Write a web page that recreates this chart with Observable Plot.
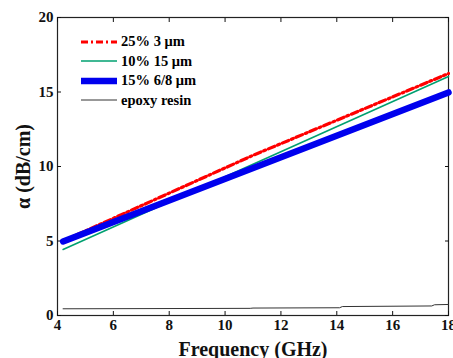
<!DOCTYPE html>
<html><head><meta charset="utf-8">
<script src="https://cdn.jsdelivr.net/npm/d3@7"></script>
<script src="https://cdn.jsdelivr.net/npm/@observablehq/plot@0.6"></script>
<style>
body{margin:0;background:#fff;}
#wrap{position:relative;width:453px;height:358px;font-family:"Liberation Serif","Times New Roman",serif;font-weight:bold;}
#legend{position:absolute;left:80px;top:32px;font-size:14.5px;line-height:19.5px;}
#legend div{display:flex;align-items:center;height:19.5px;}
#legend svg{margin-right:3px;}
</style></head><body>
<div id="wrap"><div id="legend"></div></div>
<script>
const freq25 = [4.2, 11, 18];
const s25 = [5.0, 10.75, 16.24];
const freq10 = [4.2, 18];
const s10 = [4.43, 16.04];
const freq15 = [4.2, 18];
const s15 = [4.97, 14.97];
const epoxyFreq = [4.2, 10.9, 11.0, 14.1, 14.2, 17.4, 17.5, 18];
const epoxyVal = [0.45, 0.48, 0.5, 0.52, 0.6, 0.64, 0.72, 0.74];
const xTicks = [4, 6, 8, 10, 12, 14, 16, 18];
const yTicks = [0, 5, 10, 15, 20];
const names = ["25% 3 \u03bcm", "10% 15 \u03bcm", "15% 6/8 \u03bcm", "epoxy resin"];
const colors = ["#ff0000", "#00a070", "#0000ee", "#333333"];
const widths = [3.2, 1.6, 6.5, 1];
const dashes = ["7,3,2,3", null, null, null];

const toRows = (xs, ys) => xs.map((x, i) => ({x, y: ys[i]}));
const series = [toRows(freq25, s25), toRows(freq10, s10), toRows(freq15, s15), toRows(epoxyFreq, epoxyVal)];
const order = [0, 1, 2, 3];

const chart = Plot.plot({
  width: 453, height: 358,
  marginLeft: 57, marginTop: 17, marginRight: 5, marginBottom: 43,
  style: {fontFamily: "Liberation Serif, Times New Roman, serif", fontWeight: "bold", fontSize: "15px", color: "#111", background: "#fff"},
  x: {domain: [4, 18]},
  y: {domain: [0, 20]},
  marks: [
    Plot.frame({stroke: "#222", strokeWidth: 1.2}),
    Plot.axisX({ticks: xTicks, tickSize: -4, tickPadding: 8, label: null, fontSize: 15}),
    Plot.axisX({anchor: "top", ticks: xTicks, tickSize: -4, tickFormat: () => "", label: null}),
    Plot.axisY({ticks: yTicks, tickSize: -4, tickPadding: 8, label: null, fontSize: 15}),
    Plot.axisY({anchor: "right", ticks: yTicks, tickSize: -4, tickFormat: () => "", label: null}),
    Plot.axisX({ticks: [], label: "Frequency (GHz)", labelAnchor: "center", labelArrow: "none", labelOffset: 40, fontSize: 20}),
    Plot.axisY({ticks: [], label: "\u03b1 (dB/cm)", labelAnchor: "center", labelArrow: "none", labelOffset: 42, fontSize: 20}),
    ...order.map(i => Plot.line(series[i], {x: "x", y: "y", stroke: colors[i], strokeWidth: widths[i], strokeDasharray: dashes[i]}))
  ]
});
const wrap = document.getElementById("wrap");
wrap.insertBefore(chart, wrap.firstChild);

const legend = d3.select("#legend");
names.forEach((n, i) => {
  const row = legend.append("div");
  const svg = row.append("svg").attr("width", 38).attr("height", 10);
  svg.append("line").attr("x1", 1).attr("x2", 37).attr("y1", 5).attr("y2", 5)
    .attr("stroke", colors[i]).attr("stroke-width", widths[i])
    .attr("stroke-dasharray", dashes[i]);
  row.append("span").text(n);
});
</script>
</body></html>
